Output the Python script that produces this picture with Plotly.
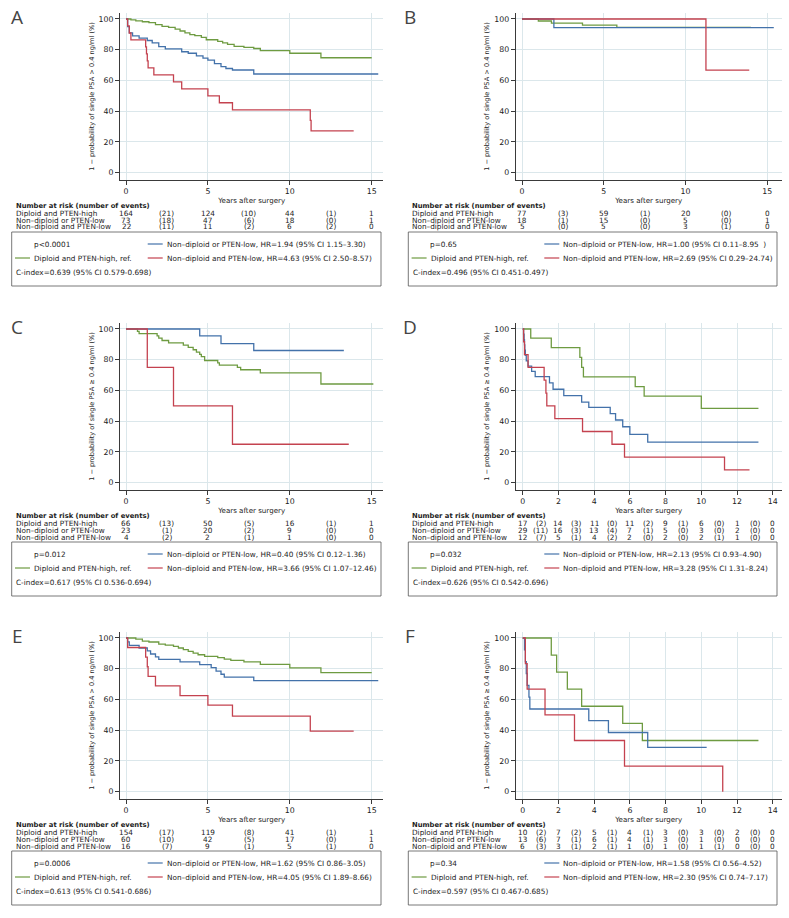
import plotly.graph_objects as go

W, H = 789, 918
FONT = "DejaVu Sans, Liberation Sans, sans-serif"
GREEN, BLUE, RED = "#6e9b41", "#4372aa", "#c4424f"
GRID = "#dbe7eb"
AXIS = "#3a3a3a"
TXT = "#222222"

groups = ["Diploid and PTEN-high", "Non\u2013diploid or PTEN-low", "Non\u2013diploid and PTEN-low"]

# ---- A ----
a_green_t = [0, 0.3, 0.6, 1.0, 1.4, 1.8, 2.2, 2.6, 3.0, 3.3, 3.6, 3.9, 4.2, 4.6, 4.9, 5.6, 5.9, 6.2, 6.6, 7.2, 7.8, 8.2, 10.0, 11.9, 15.0]
a_green_s = [100, 99.4, 98.8, 98.2, 97.6, 96.4, 95.2, 94.6, 93.4, 92.2, 91.0, 89.8, 89.2, 88.0, 86.5, 85.5, 84.5, 83.5, 82.2, 81.5, 80.8, 79.4, 77.7, 74.8, 74.8]
a_blue_t = [0, 0.1, 0.2, 0.4, 0.8, 1.3, 1.6, 2.0, 2.4, 3.4, 3.8, 4.3, 4.7, 5.0, 5.4, 5.8, 6.1, 6.5, 7.8, 15.4]
a_blue_s = [100, 95, 91, 89, 87.5, 86, 84.5, 82, 80.5, 78.7, 77.7, 76, 74.5, 73.3, 71, 69, 67.8, 66.8, 64.2, 64.2]
a_red_t = [0, 0.1, 0.2, 0.3, 1.2, 1.25, 1.3, 1.35, 1.7, 2.9, 3.4, 5.0, 5.7, 6.5, 11.25, 11.3, 13.9]
a_red_s = [100, 95.5, 90.9, 86.4, 81.8, 77.3, 72.7, 68.2, 63.6, 59.1, 54.5, 50.0, 45.5, 40.9, 34.0, 27.2, 27.2]
a_risk = [["164", "(21)", "124", "(10)", "44", "(1)", "1"],
          ["73", "(18)", "47", "(6)", "18", "(0)", "1"],
          ["22", "(11)", "11", "(2)", "6", "(2)", "0"]]
a_p = "p<0.0001"
a_hr = ["HR=1.94 (95% CI 1.15\u20133.30)", "HR=4.63 (95% CI 2.50\u20138.57)"]
a_cidx = "C-index=0.639 (95% CI 0.579-0.698)"

# ---- B ----
b_green_t = [0, 1.0, 1.8, 3.7, 5.8, 14.0]
b_green_s = [100, 98.7, 97.3, 96.0, 94.6, 94.6]
b_blue_t = [0, 1.95, 15.4]
b_blue_s = [100, 94.4, 94.4]
b_red_t = [0, 11.25, 13.9]
b_red_s = [100, 66.7, 66.7]
b_risk = [["77", "(3)", "59", "(1)", "20", "(0)", "0"],
          ["18", "(1)", "15", "(0)", "5", "(0)", "1"],
          ["5", "(0)", "5", "(0)", "3", "(1)", "0"]]
b_p = "p=0.65"
b_hr = ["HR=1.00 (95% CI 0.11\u20138.95  )", "HR=2.69 (95% CI 0.29\u201324.74)"]
b_cidx = "C-index=0.496 (95% CI 0.451-0.497)"

# ---- C ----
c_green_t = [0, 0.7, 0.8, 1.9, 2.0, 2.2, 2.6, 3.5, 3.8, 4.1, 4.3, 4.5, 4.6, 4.8, 5.6, 5.7, 6.8, 7.0, 8.2, 11.9, 15.1]
c_green_s = [100, 98.5, 97.0, 95.5, 94.0, 92.5, 91.0, 89.5, 88.0, 86.5, 85.0, 83.5, 82.0, 79.5, 78.0, 76.5, 75.0, 73.5, 71.5, 64.2, 64.2]
c_blue_t = [0, 4.5, 5.8, 7.8, 13.3]
c_blue_s = [100, 95.5, 90.5, 86.0, 86.0]
c_red_t = [0, 1.3, 2.9, 6.5, 13.6]
c_red_s = [100, 75, 50, 25, 25]
c_risk = [["66", "(13)", "50", "(5)", "16", "(1)", "1"],
          ["23", "(1)", "20", "(2)", "9", "(0)", "0"],
          ["4", "(2)", "2", "(1)", "1", "(0)", "0"]]
c_p = "p=0.012"
c_hr = ["HR=0.40 (95% CI 0.12\u20131.36)", "HR=3.66 (95% CI 1.07\u201312.46)"]
c_cidx = "C-index=0.617 (95% CI 0.536-0.694)"

# ---- D ----
d_green_t = [0, 0.45, 1.6, 3.2, 3.3, 3.4, 6.3, 6.8, 10.0, 13.2]
d_green_s = [100, 94.1, 87.9, 81.6, 75.0, 68.8, 62.5, 56.3, 48.3, 48.3]
d_blue_t = [0, 0.05, 0.08, 0.1, 0.12, 0.15, 0.2, 0.3, 0.5, 0.7, 1.5, 1.7, 2.3, 3.3, 3.7, 4.9, 5.2, 5.6, 6.0, 7.0, 13.2]
d_blue_s = [100, 96.6, 93.1, 89.7, 86.2, 82.8, 79.3, 75.9, 72.4, 69.0, 65.0, 60.8, 56.6, 52.4, 49.0, 45.0, 40.8, 36.4, 31.5, 26.4, 26.4]
d_red_t = [0, 0.05, 0.1, 0.3, 1.2, 1.3, 1.35, 1.8, 3.35, 5.0, 5.7, 11.3, 12.7]
d_red_s = [100, 91.7, 83.3, 75.0, 66.7, 58.3, 50.0, 41.7, 33.3, 25.0, 16.7, 8.3, 8.3]
d_risk = [["17", "(2)", "14", "(3)", "11", "(0)", "11", "(2)", "9", "(1)", "6", "(0)", "1", "(0)", "0"],
          ["29", "(11)", "16", "(3)", "13", "(4)", "7", "(1)", "5", "(0)", "3", "(0)", "2", "(0)", "0"],
          ["12", "(7)", "5", "(1)", "4", "(2)", "2", "(0)", "2", "(0)", "2", "(1)", "1", "(0)", "0"]]
d_p = "p=0.032"
d_hr = ["HR=2.13 (95% CI 0.93\u20134.90)", "HR=3.28 (95% CI 1.31\u20138.24)"]
d_cidx = "C-index=0.626 (95% CI 0.542-0.696)"

# ---- E ----
e_green_t = [0, 0.6, 1.0, 1.4, 2.0, 2.4, 2.9, 3.2, 3.5, 3.8, 4.1, 4.4, 4.8, 5.6, 6.0, 6.4, 7.2, 8.2, 10.0, 11.9, 15.0]
e_green_s = [100, 99.3, 98.0, 97.4, 96.0, 95.3, 94.6, 93.5, 92.4, 91.3, 90.2, 89.1, 88.0, 87.2, 86.3, 85.5, 84.4, 82.8, 80.6, 77.5, 77.5]
e_blue_t = [0, 0.1, 0.2, 0.8, 1.3, 1.5, 1.8, 2.0, 3.3, 4.5, 5.2, 5.5, 5.8, 6.0, 7.8, 15.4]
e_blue_s = [100, 97.5, 95.2, 93.5, 91.6, 89.6, 87.7, 86.1, 84.4, 82.7, 80.7, 78.4, 76.4, 74.5, 72.3, 72.3]
e_red_t = [0, 0.1, 1.2, 1.3, 1.35, 1.8, 3.3, 5.0, 6.5, 11.25, 13.9]
e_red_s = [100, 93.8, 87.5, 81.3, 75.0, 68.8, 62.5, 56.3, 49.2, 39.4, 39.4]
e_risk = [["154", "(17)", "119", "(8)", "41", "(1)", "1"],
          ["60", "(10)", "42", "(5)", "17", "(0)", "1"],
          ["16", "(7)", "9", "(1)", "5", "(1)", "0"]]
e_p = "p=0.0006"
e_hr = ["HR=1.62 (95% CI 0.86\u20133.05)", "HR=4.05 (95% CI 1.89\u20138.66)"]
e_cidx = "C-index=0.613 (95% CI 0.541-0.686)"

# ---- F ----
f_green_t = [0, 1.6, 1.9, 2.5, 3.3, 5.6, 6.7, 13.2]
f_green_s = [100, 88.9, 77.8, 66.7, 55.6, 44.4, 33.3, 33.3]
f_blue_t = [0, 0.1, 0.15, 0.2, 0.25, 0.35, 0.4, 3.7, 4.8, 7.0, 10.3]
f_blue_s = [100, 92.3, 84.6, 76.9, 69.2, 61.5, 53.8, 46.2, 38.5, 28.8, 28.8]
f_red_t = [0, 0.15, 0.25, 1.25, 2.9, 5.7, 11.2, 11.2]
f_red_s = [100, 83.3, 66.7, 50.0, 33.3, 16.7, 0, 0]
f_risk = [["10", "(2)", "7", "(2)", "5", "(1)", "4", "(1)", "3", "(0)", "3", "(0)", "2", "(0)", "0"],
          ["13", "(6)", "7", "(1)", "6", "(1)", "4", "(1)", "3", "(0)", "1", "(0)", "0", "(0)", "0"],
          ["6", "(3)", "3", "(1)", "2", "(1)", "1", "(0)", "1", "(0)", "1", "(1)", "0", "(0)", "0"]]
f_p = "p=0.34"
f_hr = ["HR=1.58 (95% CI 0.56\u20134.52)", "HR=2.30 (95% CI 0.74\u20137.17)"]
f_cidx = "C-index=0.597 (95% CI 0.467-0.685)"

panels = [
    ("A", 0, 0, 15, [(a_green_t, a_green_s, GREEN), (a_blue_t, a_blue_s, BLUE), (a_red_t, a_red_s, RED)], a_risk, a_p, a_hr, a_cidx, ">"),
    ("B", 1, 0, 15, [(b_green_t, b_green_s, GREEN), (b_blue_t, b_blue_s, BLUE), (b_red_t, b_red_s, RED)], b_risk, b_p, b_hr, b_cidx, ">"),
    ("C", 0, 1, 15, [(c_green_t, c_green_s, GREEN), (c_blue_t, c_blue_s, BLUE), (c_red_t, c_red_s, RED)], c_risk, c_p, c_hr, c_cidx, "\u2265"),
    ("D", 1, 1, 14, [(d_green_t, d_green_s, GREEN), (d_blue_t, d_blue_s, BLUE), (d_red_t, d_red_s, RED)], d_risk, d_p, d_hr, d_cidx, "\u2265"),
    ("E", 0, 2, 15, [(e_green_t, e_green_s, GREEN), (e_blue_t, e_blue_s, BLUE), (e_red_t, e_red_s, RED)], e_risk, e_p, e_hr, e_cidx, ">"),
    ("F", 1, 2, 14, [(f_green_t, f_green_s, GREEN), (f_blue_t, f_blue_s, BLUE), (f_red_t, f_red_s, RED)], f_risk, f_p, f_hr, f_cidx, "\u2265"),
]

# pixel helpers
def px(x):
    return x / W

def py(y):
    return 1 - y / H

col_axis = [(120, 383.3), (515.7, 781.7)]
row_dy = [0, 310, 619]
label_x = [15, 411]
box_x = [(11.7, 381), (408.3, 777)]
letter_x = [17, 410]

TS = 7.3   # table / legend text size

fig = go.Figure()
annotations = []
shapes = []

for i, (letter, col, row, kind, curves, risk, ptxt, hr, cidx, sym) in enumerate(panels, start=1):
    dy = row_dy[row]
    ax0, ax1 = col_axis[col]
    top, bot = 13 + dy, 180 + dy
    if kind == 15:
        x0px, per = (126, 16.38) if col == 0 else (522, 16.35)
        ticks = [0, 5, 10, 15]
        cols_x = [0, 2.5, 5, 7.5, 10, 12.5, 15]
    else:
        x0px, per = 522.7, 17.86
        ticks = list(range(0, 15, 2))
        cols_x = list(range(15))
    xr = [(ax0 - x0px) / per, (ax1 - x0px) / per]
    xs = "" if i == 1 else str(i)
    xname, yname = "x" + xs, "y" + xs

    for t, s, c in curves:
        fig.add_trace(go.Scatter(x=t, y=s, mode="lines", line=dict(color=c, width=1.3, shape="hv"),
                                 xaxis=xname, yaxis=yname, showlegend=False, hoverinfo="skip"))

    fig.layout["xaxis" + xs] = dict(
        domain=[px(ax0), px(ax1)], anchor=yname, range=xr, tickvals=ticks,
        showline=True, linecolor=AXIS, linewidth=1, ticks="outside", ticklen=4, tickcolor=AXIS,
        showgrid=True, gridcolor=GRID, gridwidth=1, zeroline=False,
        tickfont=dict(family=FONT, size=7.8, color=TXT),
        title=dict(text="Years after surgery", font=dict(family=FONT, size=7.1, color=TXT), standoff=1),
    )
    fig.layout["yaxis" + xs] = dict(
        domain=[py(bot), py(top)], anchor=xname, range=[-4.75, 103.9], tickvals=[0, 20, 40, 60, 80, 100],
        showline=True, linecolor=AXIS, linewidth=1, ticks="outside", ticklen=4, tickcolor=AXIS,
        showgrid=True, gridcolor=GRID, gridwidth=1, zeroline=False,
        tickfont=dict(family=FONT, size=7.8, color=TXT),
        title=dict(text="1 \u2212 probability of single PSA " + sym + " 0.4 ng/ml (%)",
                   font=dict(family=FONT, size=6.6, color=TXT), standoff=3),
    )

    # panel letter
    annotations.append(dict(text=letter, x=px(letter_x[col]), y=py(17 + dy), xref="paper", yref="paper",
                            showarrow=False, xanchor="center", yanchor="middle",
                            font=dict(family="Open Sans, Liberation Sans, sans-serif", size=19, color="#444")))

    # number at risk table
    annotations.append(dict(text="<b>Number at risk (number of events)</b>", x=px(label_x[col] - 1), y=py(206 + dy),
                            xref="paper", yref="paper", showarrow=False, xanchor="left", yanchor="middle",
                            font=dict(family=FONT, size=6.8, color=TXT)))
    row_y = [213, 220, 227]
    for g, vals, ry in zip(groups, risk, row_y):
        annotations.append(dict(text=g, x=px(label_x[col] - 1), y=py(ry + dy), xref="paper", yref="paper",
                                showarrow=False, xanchor="left", yanchor="middle",
                                font=dict(family=FONT, size=TS, color=TXT)))
        for xv, v in zip(cols_x, vals):
            annotations.append(dict(text=v, x=xv, y=py(ry + dy), xref=xname, yref="paper",
                                    showarrow=False, xanchor="center", yanchor="middle",
                                    font=dict(family=FONT, size=TS, color=TXT)))

    # legend box
    bx0, bx1 = box_x[col]
    shapes.append(dict(type="rect", xref="paper", yref="paper", x0=px(bx0), x1=px(bx1),
                       y0=py(286 + dy), y1=py(232 + dy), line=dict(color="#555", width=0.8)))
    r1, r2, r3 = 244 + dy, 258 + dy, 272 + dy
    leg_items = [
        (None, ptxt, bx0 + 20, r1),
        (BLUE, groups[1] + ", " + hr[0], bx0 + 136, r1),
        (GREEN, groups[0] + ", ref.", bx0 + 3.3, r2),
        (RED, groups[2] + ", " + hr[1], bx0 + 136, r2),
        (None, cidx, bx0 + 2.3, r3),
    ]
    for c, txt, lx, ly in leg_items:
        tx = lx
        if c is not None:
            shapes.append(dict(type="line", xref="paper", yref="paper", x0=px(lx), x1=px(lx + 15),
                               y0=py(ly), y1=py(ly), line=dict(color=c, width=1.2)))
            tx = lx + 17
        annotations.append(dict(text=txt, x=px(tx), y=py(ly), xref="paper", yref="paper",
                                showarrow=False, xanchor="left", yanchor="middle",
                                font=dict(family=FONT, size=TS, color=TXT)))

fig.update_layout(width=W, height=H, margin=dict(l=0, r=0, t=0, b=0),
                  paper_bgcolor="white", plot_bgcolor="white",
                  annotations=annotations, shapes=shapes, showlegend=False)

# the page body has a default 8px margin; drop it so the figure sits at the window corner
fig.write_html("out.html", config={"displayModeBar": False},
               post_script="document.body.style.margin='0px';")
